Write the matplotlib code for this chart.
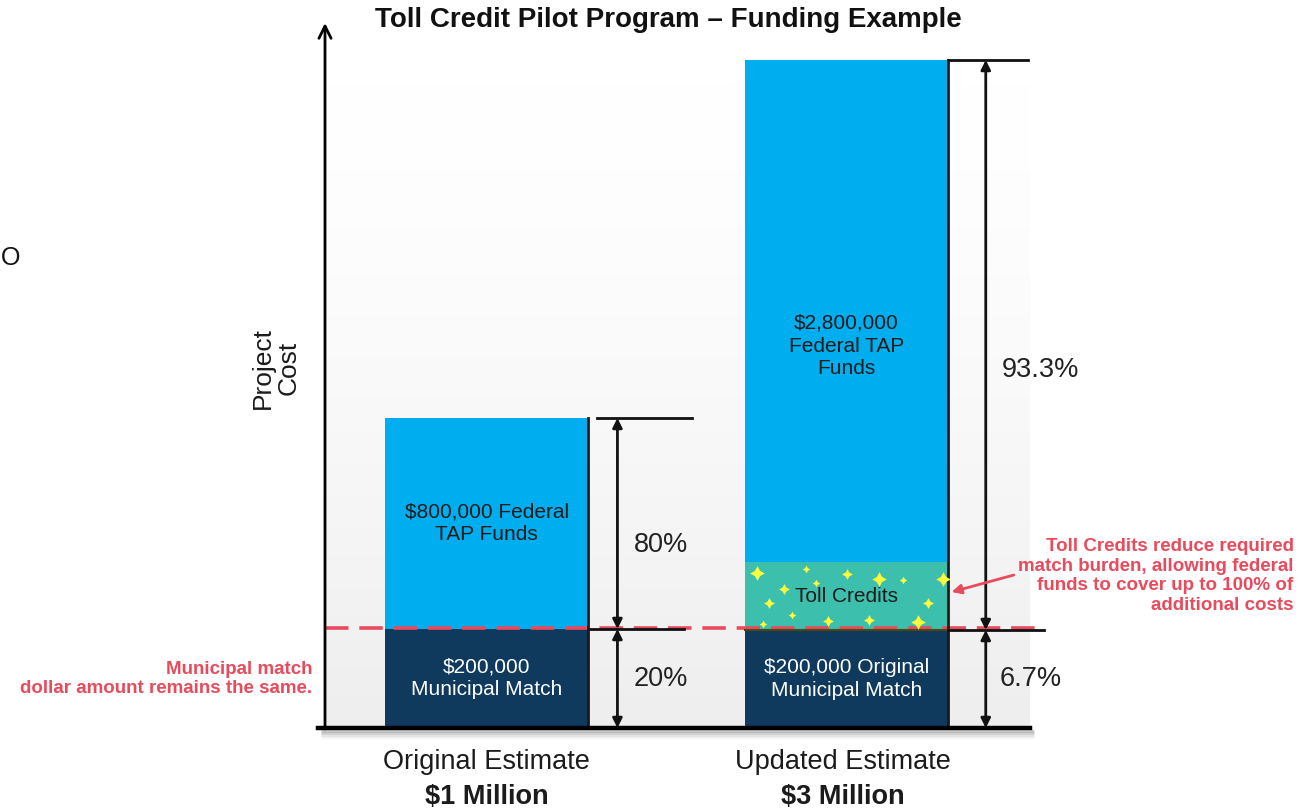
import numpy as np
import matplotlib.pyplot as plt
from matplotlib.colors import LinearSegmentedColormap

plt.rcParams['font.family'] = ['Liberation Sans', 'DejaVu Sans']

# data (segment heights are the drawn, schematic heights)
categories = ['Original Estimate', 'Updated Estimate']
totals = ['$1 Million', '$3 Million']
muni_h = [99, 98]
toll_h = [0, 68]
fed_h = [211, 502]
muni_labels = ['$200,000\nMunicipal Match', '$200,000 Original\nMunicipal Match']
fed_labels = ['$800,000 Federal\nTAP Funds', '$2,800,000\nFederal TAP\nFunds']
fed_pct = ['80%', '93.3%']
muni_pct = ['20%', '6.7%']
toll_label = 'Toll Credits'
# sparkle positions inside the toll credit box (fraction x, fraction y, size)
stars = [(0.06, 0.84, 110), (0.30, 0.90, 30), (0.50, 0.82, 60), (0.66, 0.75, 110),
         (0.78, 0.74, 30), (0.975, 0.75, 110), (0.35, 0.69, 30), (0.19, 0.60, 60),
         (0.12, 0.40, 60), (0.90, 0.40, 60), (0.23, 0.22, 30), (0.41, 0.13, 60),
         (0.61, 0.15, 60), (0.85, 0.12, 110), (0.09, 0.09, 30)]

BLUE = '#00AEEF'
NAVY = '#0F3A5E'
TEAL = '#3DBFAE'
RED = '#E84B5C'

fig = plt.figure(figsize=(13.07, 8.09), dpi=100)
ax = fig.add_axes([325 / 1307, 81 / 809, 705 / 1307, 703 / 809])

# soft grey backdrop
grad = np.linspace(0, 1, 256).reshape(-1, 1) ** 1.5
cmap = LinearSegmentedColormap.from_list('bg', ['#FFFFFF', '#EDEDED'])
ax.imshow(grad, extent=[-0.47, 1.54, -20, 660], aspect='auto', cmap=cmap,
          origin='upper', zorder=0)

x = np.arange(len(categories))
w = 0.565
bottom_toll = np.array(muni_h)
bottom_fed = bottom_toll + np.array(toll_h)

ax.bar(x, muni_h, w, color=NAVY, zorder=2)
ax.bar(x, toll_h, w, bottom=bottom_toll, color=TEAL, zorder=2)
ax.bar(x, fed_h, w, bottom=bottom_fed, color=BLUE, zorder=2)
# dark right edge
for i in x:
    ax.plot([i + w / 2] * 2, [0, bottom_fed[i] + fed_h[i]], color='#1a1a1a', lw=2, zorder=3)
ax.plot([1 - w / 2, 1 + w / 2], [bottom_toll[1]] * 2, color='#4a4a10', lw=1.5, zorder=3)

# segment labels
label_frac = [0.5, 0.43]
for i in x:
    ax.text(i, muni_h[i] / 2, muni_labels[i], color='white', ha='center', va='center',
            fontsize=15, linespacing=1.25, zorder=4)
    ax.text(i, bottom_fed[i] + fed_h[i] * label_frac[i], fed_labels[i], color='#1b1b1b',
            ha='center', va='center', fontsize=15, linespacing=1.25, zorder=4)
ax.text(1, bottom_toll[1] + toll_h[1] / 2, toll_label, color='#1b1b1b', ha='center',
        va='center', fontsize=15, zorder=4)

for fx, fy, s in stars:
    ax.scatter(1 - w / 2 + fx * w, bottom_toll[1] + fy * toll_h[1], s=s, marker=(4, 1, 0),
               color='#FFFF3A', linewidths=0, zorder=3)

# dimension lines
dim_x = [0.363, 1.387]
top_line = [(0.305, 0.569), (1 + w / 2, 1.504)]
mid_line = [(0.288, 0.547), (1 + w / 2, 1.548)]
pct_x = [(0.483, 0.483), (1.54, 1.512)]
fed_pct_y = [183, 358]
for i in x:
    top = bottom_fed[i] + fed_h[i]
    split = muni_h[i]
    ax.plot(top_line[i], [top, top], color='#111111', lw=2, zorder=3, clip_on=False)
    ax.plot(mid_line[i], [split, split], color='#111111', lw=2, zorder=3, clip_on=False)
    ax.annotate('', xy=(dim_x[i], top), xytext=(dim_x[i], split),
                arrowprops=dict(arrowstyle='<|-|>', color='#111111', lw=2,
                                mutation_scale=14, shrinkA=0, shrinkB=0), zorder=3)
    ax.annotate('', xy=(dim_x[i], split), xytext=(dim_x[i], 0),
                arrowprops=dict(arrowstyle='<|-|>', color='#111111', lw=2,
                                mutation_scale=14, shrinkA=0, shrinkB=0), zorder=3)
    ax.text(pct_x[i][0], fed_pct_y[i], fed_pct[i], fontsize=19.5, color='#222222',
            ha='center', va='center', clip_on=False)
    ax.text(pct_x[i][1], muni_h[i] / 2, muni_pct[i], fontsize=19.5, color='#222222',
            ha='center', va='center', clip_on=False)

# red dashed match line
ax.plot([-0.45, 1.526], [100, 100], color=RED, lw=2.6, ls=(0, (6.5, 3)), zorder=2.5,
        clip_on=False)

# axes: baseline with shadow, vertical arrow
for k, a in enumerate([0.18, 0.12, 0.07, 0.04]):
    ax.plot([-0.46, 1.52], [-2.5 - 2 * k] * 2, color='black', alpha=a, lw=2.5,
            solid_capstyle='butt', clip_on=False, zorder=1)
ax.plot([-0.469, 1.51], [0, 0], color='black', lw=3.2, zorder=5, clip_on=False)
ax.annotate('', xy=(-0.45, 705), xytext=(-0.45, -1),
            arrowprops=dict(arrowstyle='->', color='black', lw=2, mutation_scale=22,
                            shrinkA=0, shrinkB=0), annotation_clip=False)

# category labels
for i in x:
    ax.text(i - 0.01 * i, -34, categories[i], ha='center', va='center', fontsize=19.5,
            color='#1b1b1b', clip_on=False)
    ax.text(i - 0.01 * i, -69, totals[i], ha='center', va='center', fontsize=19.5,
            fontweight='bold', color='#1b1b1b', clip_on=False)

ax.text(-0.587, 360, 'Project\nCost', rotation=90, ha='center', va='center',
        fontsize=19, color='#1b1b1b', linespacing=1.1, clip_on=False)
ax.text(0.506, 708, 'Toll Credit Pilot Program \u2013 Funding Example', ha='center',
        va='center', fontsize=20, fontweight='bold', color='#111111', clip_on=False)

# red notes
ax.text(-0.486, 49, 'Municipal match\ndollar amount remains the same.', ha='right',
        va='center', fontsize=13.5, fontweight='bold', color=RED, linespacing=1.2,
        clip_on=False)
ax.text(2.243, 152, 'Toll Credits reduce required\nmatch burden, allowing federal\n'
        'funds to cover up to 100% of\nadditional costs', ha='right', va='center',
        fontsize=13.5, fontweight='bold', color=RED, linespacing=1.2, clip_on=False)
ax.annotate('', xy=(1.292, 136), xytext=(1.465, 153),
            arrowprops=dict(arrowstyle='-|>', color=RED, lw=2, mutation_scale=14,
                            shrinkA=0, shrinkB=0), annotation_clip=False, zorder=5)

fig.text(0.001, 1 - 258 / 809, 'O', fontsize=18, ha='left', va='center', color='#111111')

ax.set_xlim(-0.45, 1.51)
ax.set_ylim(0, 703)
ax.axis('off')

fig.savefig('out.png', dpi=100)
